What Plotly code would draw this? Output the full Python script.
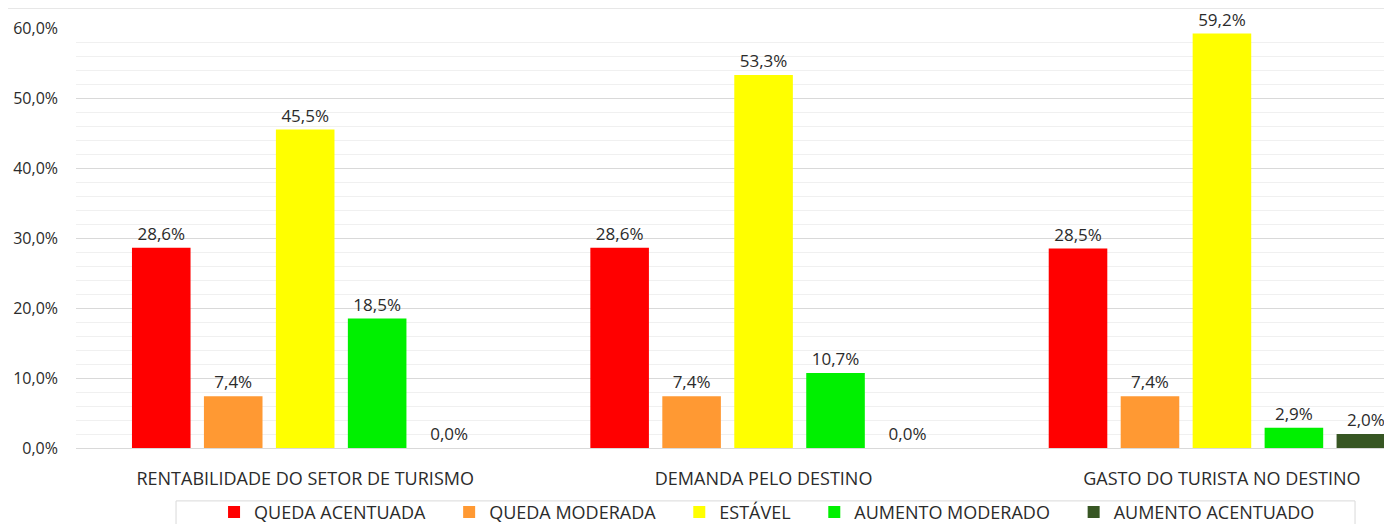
import plotly.graph_objects as go

categories = ["RENTABILIDADE DO SETOR DE TURISMO", "DEMANDA PELO DESTINO", "GASTO DO TURISTA NO DESTINO"]
series_names = ["QUEDA ACENTUADA", "QUEDA MODERADA", "ESTÁVEL", "AUMENTO MODERADO", "AUMENTO ACENTUADO"]
queda_acentuada = [28.6, 28.6, 28.5]
queda_moderada = [7.4, 7.4, 7.4]
estavel = [45.5, 53.3, 59.2]
aumento_moderado = [18.5, 10.7, 2.9]
aumento_acentuado = [0.0, 0.0, 2.0]
colors = ["#FF0000", "#FF9933", "#FFFF00", "#00F000", "#375623"]

series_values = [queda_acentuada, queda_moderada, estavel, aumento_moderado, aumento_acentuado]

FONT = "Segoe UI, Open Sans, sans-serif"
TXT = "#2B2B2B"
PAD = "\u00a0" * 4  # extra spacing between legend entries

fig = go.Figure()
for name, vals, col in zip(series_names, series_values, colors):
    fig.add_trace(go.Bar(
        x=categories, y=vals, name=name + PAD,
        marker=dict(color=col, line=dict(width=0)),
        texttemplate="%{y:.1f}%", textposition="outside",
        textfont=dict(family=FONT, size=17, color=TXT),
        cliponaxis=False,
    ))

# the page body has an 8px default margin, so the figure is 8px smaller
fig.update_layout(
    width=1384, height=516,
    margin=dict(l=68, r=0, t=20, b=76, autoexpand=False),
    paper_bgcolor="white", plot_bgcolor="white",
    barmode="group", bargap=0.215, bargroupgap=0.186,
    separators=",.",
    font=dict(family=FONT, size=16, color=TXT),
    showlegend=True,
    legend=dict(
        orientation="h", x=0.1049, y=-0.109, xanchor="left", yanchor="top",
        borderwidth=0, bgcolor="rgba(0,0,0,0)",
        font=dict(family=FONT, size=18, color=TXT),
        traceorder="normal",
    ),
    xaxis=dict(
        range=[-0.5, 2.371], showgrid=False, showline=True, linecolor="#D9D9D9",
        linewidth=1, ticks="", ticklabelstandoff=14,
        tickfont=dict(family=FONT, size=18, color=TXT),
    ),
    yaxis=dict(
        range=[0, 60], dtick=10, tickformat=".1f", ticksuffix="%",
        showgrid=True, gridcolor="#D9D9D9", gridwidth=1,
        minor=dict(dtick=2, showgrid=True, gridcolor="#F0F0F0", gridwidth=1),
        zeroline=False, showline=False, ticks="", ticklabelstandoff=17,
        tickfont=dict(family=FONT, size=16, color=TXT),
    ),
    shapes=[
        dict(type="line", xref="paper", yref="paper", x0=-0.06, x1=1.0,
             y0=1.047, y1=1.047, line=dict(color="#E0E0E0", width=1)),
        dict(type="rect", xref="paper", yref="paper", x0=0.076, x1=0.9719,
             y0=-0.126, y1=-0.2, line=dict(color="#D9D9D9", width=1),
             fillcolor="rgba(0,0,0,0)"),
    ],
)

fig.write_html("out.html")
